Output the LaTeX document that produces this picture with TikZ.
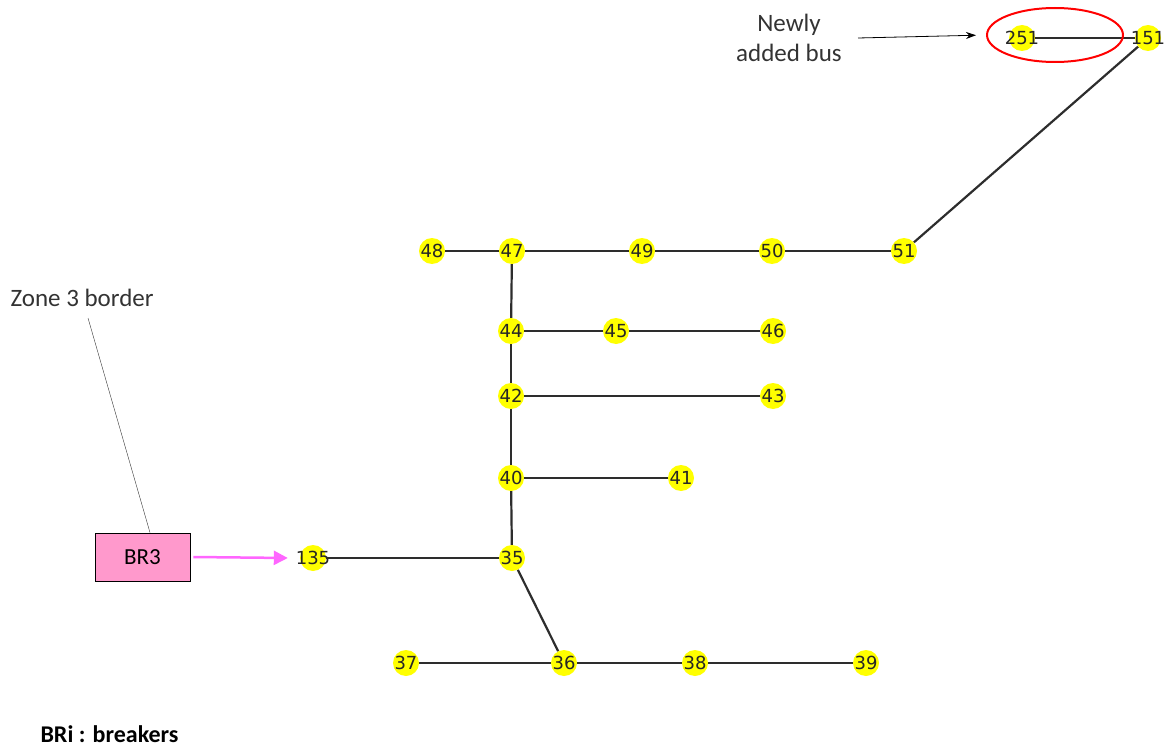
\documentclass[tikz,border=0pt]{standalone}
\usepackage{fontspec}
\setmainfont{Carlito}
\newfontfamily\busfont{DejaVu Sans}
\usetikzlibrary{positioning}
\usetikzlibrary{arrows.meta}
\usetikzlibrary{shapes.geometric}

\definecolor{busyellow}{RGB}{255,255,0}
\definecolor{brpink}{RGB}{255,153,204}
\definecolor{brarrow}{RGB}{255,102,255}
\definecolor{linegray}{RGB}{45,45,45}

\tikzset{
  bus/.style={circle, fill=busyellow, inner sep=0pt, minimum size=26pt,
    label={[font=\busfont\fontsize{18}{19}\selectfont, text=black!85]center:#1}},
  feeder/.style={draw=linegray, line width=2.2pt},
  note/.style={font=\fontsize{25}{30}\selectfont, text=black!80, align=center},
}

\begin{document}
\begin{tikzpicture}[x=1pt, y=-1pt]
\useasboundingbox (0,0) rectangle (1168,749);

% buses
\foreach \n/\px/\py in {251/1022/38, 151/1148/38,
  48/432/251, 47/512/251, 49/642/251, 50/772/251, 51/904/251,
  44/511/331, 45/616/331, 46/773/331,
  42/511/396, 43/773/396,
  40/511/478, 41/681/478,
  135/313/558, 35/512/558,
  37/406/663, 36/564/663, 38/695/663, 39/866/663} {
  \node[bus=\n] (b\n) at (\px,\py) {};
}

% lines
\foreach \a/\b in {251/151, 151/51, 51/50, 50/49, 49/47, 47/48,
  47/44, 44/45, 45/46, 44/42, 42/43, 42/40, 40/41, 40/35,
  35/135, 35/36, 36/37, 36/38, 38/39} {
  \draw[feeder] (b\a) -- (b\b);
}

% newly added bus
\node[ellipse, draw=red, line width=2pt, minimum width=136pt, minimum height=54pt] (ring) at (1055,35) {};
\node[note] (newly) at (789,38) {Newly\\added bus};
\draw[-{Stealth[length=10pt, width=7pt]}, thick, shorten >=10pt] (858,38) -- (ring.west);

% breaker
\node[draw, thick, fill=brpink, minimum width=95pt, minimum height=48pt,
  font=\fontsize{23}{26}\selectfont] (br3) at (142.5,557) {BR3};
\draw[brarrow, line width=2.5pt, -{Triangle[length=14pt, width=14pt]}] ([xshift=3pt]br3.east) -- ([xshift=-12pt]b135.west);
\node[note, anchor=west] (zone) at (7,298) {Zone 3 border};
\draw[black!80] (88,318) -- ([xshift=7.5pt]br3.north);

\node[note, anchor=west, font=\bfseries\fontsize{24}{28}\selectfont, text=black] (legend) at (37,734) {BRi : breakers};
\end{tikzpicture}
\end{document}
